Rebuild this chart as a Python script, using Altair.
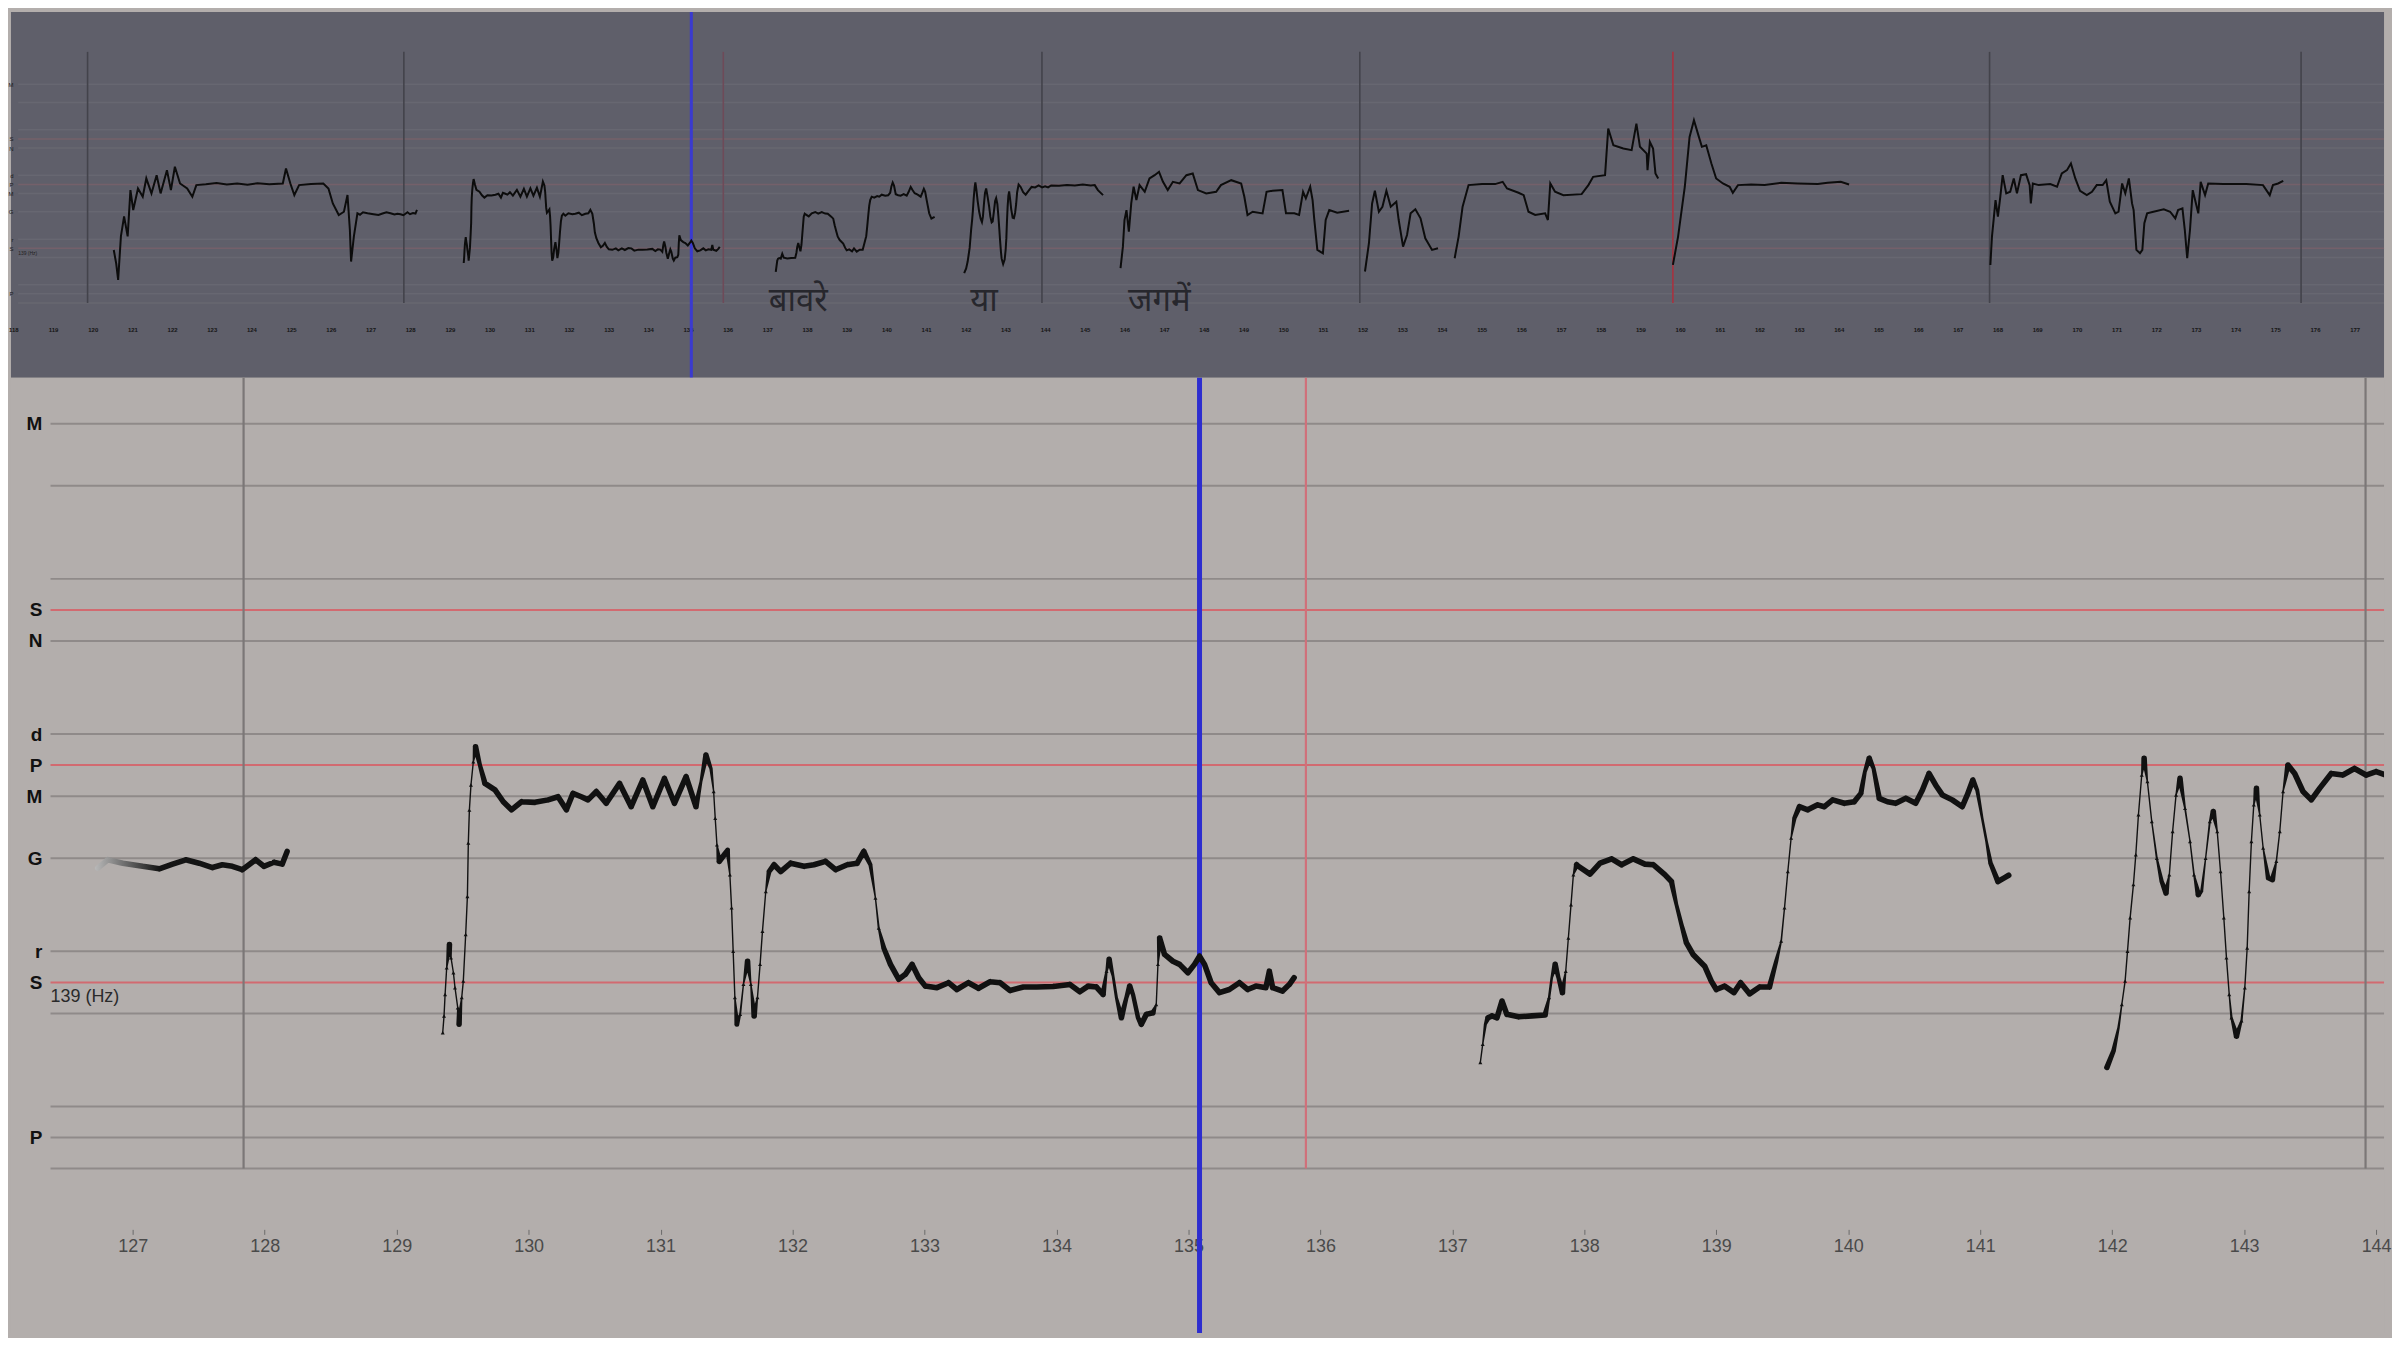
import altair as alt
import pandas as pd

# ---------------- data (time in s, pitch in semitones above Sa = 139 Hz) ----------------
SEG1 = [(120.53,-0.19),(120.59,-1.64),(120.64,-3.47),(120.71,1.31),(120.79,3.50),(120.88,1.31),(120.95,6.38),
        (121.02,4.19),(121.14,6.56),(121.26,5.65),(121.35,7.66),(121.48,6.02),(121.61,8.02),(121.71,6.02),
        (121.87,8.57),(121.97,6.38),(122.07,8.94),(122.20,7.11),(122.38,6.56),(122.51,5.65),(122.61,6.93),
        (122.85,7.02),(123.12,7.15),(123.38,7.00),(123.64,7.10),(123.90,6.98),(124.15,7.12),(124.45,7.02),
        (124.79,7.10),(124.87,8.75),(124.98,7.11),(125.08,5.84),(125.20,6.93),(125.50,7.05),(125.81,7.11),
        (125.94,6.56),(126.05,4.92),(126.20,3.65),(126.33,4.01),(126.42,5.84),(126.48,2.00),(126.51,-1.46),
        (126.58,1.28),(126.67,3.83),
        (126.735,3.68),(126.81,3.95),(126.924,3.84),(127.075,3.74),(127.201,3.66),(127.302,3.81),(127.402,3.95),
        (127.503,3.84),(127.604,3.70),(127.679,3.79),(127.755,3.74),(127.83,3.63),(127.931,3.95),(127.994,3.74),
        (128.07,3.87),(128.133,3.81),(128.17,4.22)]
SEG2 = [(129.349,-1.62),(129.359,-1.08),(129.367,-0.39),(129.379,0.47),(129.40,1.22),(129.412,0.79),(129.43,0.31),
        (129.442,-0.17),(129.463,-0.82),(129.473,-1.35),(129.493,-0.49),(129.505,0.04),(129.523,1.54),(129.536,2.77),
        (129.543,4.49),(129.551,5.55),(129.563,6.36),(129.581,7.11),(129.598,7.59),(129.631,7.00),(129.669,6.41),
        (129.745,6.20),(129.808,5.82),(129.87,5.56),(129.946,5.82),(130.047,5.80),(130.148,5.88),(130.223,5.98),
        (130.286,5.56),(130.336,6.09),(130.399,5.98),(130.45,5.88),(130.513,6.15),(130.588,5.77),(130.689,6.41),
        (130.777,5.66),(130.865,6.52),(130.941,5.66),(131.029,6.57),(131.105,5.77),(131.193,6.63),(131.268,5.66),
        (131.306,6.47),(131.344,7.32),(131.382,6.89),(131.402,6.15),(131.414,5.29),(131.427,4.43),(131.445,3.90),
        (131.482,4.11),(131.508,4.27),(131.525,3.47),(131.538,2.40),(131.55,1.00),(131.563,-0.49),(131.578,-1.35),
        (131.603,-1.03),(131.628,-0.06),(131.659,0.68),(131.684,-0.06),(131.709,-1.08),(131.734,-0.49),(131.754,0.58),
        (131.772,1.65),(131.797,2.93),(131.822,3.57),(131.86,3.79),(131.91,3.57),(131.986,3.84),(132.087,3.74),
        (132.162,3.79),(132.25,3.90),(132.326,3.63),(132.414,3.79),(132.49,3.84),(132.54,4.22),(132.59,3.79),
        (132.628,2.72),(132.653,1.75),(132.691,1.11),(132.742,0.58),(132.805,0.10),(132.855,0.26),(132.906,0.58),
        (132.956,0.15),(133.006,-0.12),(133.094,-0.17),(133.182,-0.01),(133.245,-0.23),(133.333,-0.01),(133.409,-0.19),
        (133.497,0.02),(133.573,-0.01),(133.648,-0.26),(133.749,-0.15),(133.85,-0.15),(133.976,-0.13),(134.102,-0.07),
        (134.177,-0.30),(134.24,-0.12),(134.303,-0.15),(134.353,-0.39),(134.379,0.36),(134.399,0.74),(134.429,0.20),
        (134.454,-0.49),(134.492,-1.14),(134.53,-0.49),(134.555,-0.12),(134.58,-0.39),(134.618,-1.14),(134.643,-1.35),
        (134.681,-1.03),(134.731,-0.98),(134.756,-0.71),(134.769,0.58),(134.782,1.43),(134.819,0.90),(134.882,0.68),
        (134.933,0.58),(134.996,0.31),(135.046,0.58),(135.084,0.84),(135.122,0.58),(135.172,-0.01),(135.235,-0.33),
        (135.31,-0.23),(135.386,-0.01),(135.449,-0.23),(135.512,-0.12),(135.587,-0.17),(135.613,0.36),(135.638,-0.17),
        (135.713,-0.28),(135.764,-0.07),(135.801,0.15)]
SEG3 = [(137.212,-2.58),(137.23,-1.99),(137.25,-1.35),(137.27,-1.14),(137.30,-1.08),(137.338,-1.14),(137.376,-0.60),
        (137.413,-1.03),(137.502,-1.11),(137.603,-1.08),(137.703,-1.05),(137.733,-0.49),(137.753,0.15),(137.779,0.58),
        (137.804,0.15),(137.834,-0.33),(137.859,0.36),(137.879,1.43),(137.899,2.50),(137.917,3.47),(137.942,3.79),
        (137.955,3.74),(138.043,3.49),(138.119,3.84),(138.207,3.98),(138.282,3.79),(138.371,3.98),(138.459,3.81),
        (138.522,3.79),(138.61,3.47),(138.66,3.25),(138.698,2.50),(138.736,1.86),(138.774,1.27),(138.824,0.90),
        (138.912,0.52),(138.962,0.04),(139.0,-0.23),(139.063,-0.12),(139.134,-0.33),(139.184,-0.01),(139.252,-0.37),
        (139.328,-0.15),(139.403,-0.15),(139.454,0.68),(139.492,1.33),(139.517,2.40),(139.542,3.57),(139.567,4.65),
        (139.592,5.29),(139.63,5.66),(139.693,5.56),(139.768,5.72),(139.819,5.66),(139.882,5.88),(139.97,5.77),
        (140.045,5.82),(140.096,6.09),(140.126,6.79),(140.159,7.22),(140.192,6.89),(140.235,5.93),(140.297,5.82),
        (140.36,5.77),(140.436,5.93),(140.511,5.77),(140.562,6.20),(140.612,6.73),(140.662,6.36),(140.713,6.04),
        (140.788,5.88),(140.864,5.66),(140.902,6.04),(140.944,6.52),(140.977,6.20),(141.015,5.29),(141.048,4.54),
        (141.078,3.84),(141.134,3.25),(141.179,3.36),(141.216,3.45)]
SEG4 = [(141.96,-2.74),(142.01,-2.21),(142.048,-1.46),(142.073,-0.71),(142.098,0.04),(142.116,1.00),(142.136,2.08),
        (142.161,3.15),(142.179,4.11),(142.199,5.40),(142.224,6.68),(142.242,7.22),(142.267,6.47),(142.30,5.18),
        (142.338,4.00),(142.375,3.25),(142.408,2.88),(142.433,3.47),(142.458,4.86),(142.484,6.04),(142.514,6.57),
        (142.552,5.61),(142.59,4.54),(142.62,3.47),(142.653,2.83),(142.678,2.93),(142.708,4.00),(142.74,5.18),
        (142.766,5.50),(142.796,4.86),(142.821,3.57),(142.846,2.08),(142.866,0.79),(142.887,-0.39),(142.904,-1.14),
        (142.942,-1.73),(142.98,-1.24),(143.005,-0.17),(143.023,1.11),(143.038,2.93),(143.055,4.54),(143.073,5.72),
        (143.093,6.25),(143.118,5.40),(143.144,4.33),(143.182,3.36),(143.214,3.31),(143.244,3.90),(143.27,4.86),
        (143.295,6.15),(143.332,7.00),(143.383,6.73),(143.446,6.15),(143.509,5.88),(143.572,6.25),(143.66,6.73),
        (143.748,6.68),(143.836,6.89),(143.924,6.68),(144.0,6.79),(144.075,6.68),(144.151,6.89),(144.35,6.85),
        (144.55,6.95),(144.75,6.88),(144.95,7.00),(145.15,6.90),(145.25,6.93),(145.33,6.38),(145.46,5.83)]
SEG5 = [(145.90,-2.19),(145.96,0.18),(146.00,3.10),(146.05,4.19),(146.11,1.82),(146.17,4.92),(146.23,6.75),
        (146.30,5.29),(146.38,6.93),(146.51,6.20),(146.63,7.66),(146.76,8.02),(146.87,8.39),(146.97,7.29),
        (147.09,6.38),(147.22,7.29),(147.39,7.11),(147.56,8.02),(147.72,8.21),(147.85,6.38),(148.06,6.02),
        (148.31,6.20),(148.43,6.93),(148.69,7.47),(148.94,7.11),(149.02,5.65),(149.10,3.65),(149.23,4.01),
        (149.48,3.83),(149.58,6.20),(149.73,6.31),(149.98,6.38),(150.07,3.83),(150.28,3.83),(150.40,3.65),
        (150.50,6.20),(150.57,5.47),(150.68,6.75),(150.74,5.29),(150.78,3.28),(150.86,-0.18),(151.00,-0.55),
        (151.07,3.10),(151.16,4.19),(151.36,3.90),(151.66,4.12)]
SEG6 = [(152.06,-2.55),(152.16,0.55),(152.24,4.92),(152.31,6.31),(152.41,4.01),(152.50,4.56),(152.60,6.31),
        (152.71,4.56),(152.85,5.11),(152.91,3.10),(153.02,0.18),(153.12,1.46),(153.21,3.83),(153.33,4.27),
        (153.46,3.28),(153.58,1.09),(153.75,-0.18),(153.90,0.00)]
SEG7 = [(154.32,-1.09),(154.42,1.28),(154.52,4.56),(154.67,6.93),(155.01,7.04),(155.34,7.04),(155.53,7.29),
        (155.64,6.56),(155.93,6.09),(156.06,5.83),(156.18,4.01),(156.35,3.65),(156.60,3.83),(156.67,3.10),
        (156.73,7.11),(156.85,6.20),(157.06,5.83),(157.52,5.94),(157.69,6.93),(157.81,7.84),(158.11,8.02),
        (158.19,13.13),(158.32,11.30),(158.57,10.94),(158.78,10.76),(158.90,13.68),(158.99,11.13),(159.16,10.39),
        (159.18,8.57),(159.24,11.67),(159.32,10.94),(159.38,8.21),(159.45,7.66)]
SEG8 = [(159.82,-1.83),(159.95,1.28),(160.12,6.75),(160.24,12.22),(160.35,14.04),(160.45,12.58),(160.55,11.13),
        (160.66,11.30),(160.79,9.30),(160.91,7.66),(161.08,7.11),(161.25,6.75),(161.33,6.09),(161.46,6.93),
        (161.79,7.00),(162.13,6.93),(162.55,7.18),(162.96,7.11),(163.47,7.04),(163.72,7.18),(164.05,7.29),
        (164.26,7.00)]
SEG9 = [(167.82,-1.83),(167.86,1.28),(167.91,3.47),(167.95,5.29),(168.01,3.47),(168.07,5.65),(168.13,8.02),
        (168.22,6.02),(168.32,6.20),(168.41,7.66),(168.49,6.02),(168.59,8.02),(168.72,8.13),(168.81,6.93),
        (168.84,4.92),(168.89,7.11),(169.04,6.93),(169.33,7.04),(169.50,6.75),(169.62,8.21),(169.75,8.57),
        (169.85,9.30),(169.96,7.66),(170.08,6.31),(170.25,5.83),(170.38,6.20),(170.50,6.93),(170.65,6.93),
        (170.74,7.47),(170.83,5.11),(170.97,3.83),(171.05,4.01),(171.14,7.11),(171.22,6.02),(171.31,7.66),
        (171.39,4.92),(171.43,4.19),(171.50,-0.18),(171.59,-0.55),(171.65,-0.18),(171.70,2.74),(171.77,3.83),
        (171.93,4.01),(172.19,4.27),(172.35,4.01),(172.48,3.28),(172.55,4.19),(172.66,4.38),(172.72,2.00),
        (172.78,-1.09),(172.85,2.00),(172.92,6.38),(173.00,4.92),(173.06,3.83),(173.12,7.29),(173.23,5.83),
        (173.31,7.11),(173.69,7.04),(174.27,7.04),(174.69,6.93),(174.86,5.83),(174.94,6.93),(175.07,7.11),
        (175.20,7.40)]
SEGMENTS = [SEG1, SEG2, SEG3, SEG4, SEG5, SEG6, SEG7, SEG8, SEG9]

GRID_SEMITONES = [-6, -5, -4, -1, 0, 1, 4, 6, 7, 8, 11, 12, 13, 16, 18]
RED_SEMITONES = [0, 7, 12]
SWARA_VALUES = [18, 12, 11, 8, 7, 6, 4, 1, 0, -5]
SWARA_NAMES = ["M", "S", "N", "d", "P", "M", "G", "r", "S", "P"]

VLINE_T = [119.87, 127.84, 135.89, 143.92, 151.93, 159.82, 167.80, 175.65]
VLINE_KIND = ["g", "g", "r", "g", "g", "R", "g", "g"]
PLAYHEAD_T = 135.084

LYRICS = ["बावरे", "या", "जगमें"]
LYRIC_T = [137.78, 142.46, 146.88]
LYRIC_S = -6.9

TOP_TICKS = list(range(118, 178))
BOT_TICKS = list(range(127, 145))
HZ_LABEL = "139 (Hz)"

BOTTOM_WINDOW_START = 126.73      # bottom view only shows the trace from here on
TOP_GRID_T0, BOT_GRID_T0 = 118.12, 126.377
TOP_X_DOMAIN = [117.94, 177.74]
TOP_Y_DOMAIN = [-14.22, 25.93]
BOT_X_DOMAIN = [126.0774, 144.06]
BOT_Y_DOMAIN = [-11.298, 19.476]
VLINE_S0, TOP_VLINE_S1 = -6, 21.55

# ---------------- tables ----------------
track = pd.DataFrame([{"seg": i, "t": t, "s": s}
                      for i, seg in enumerate(SEGMENTS, start=1) for t, s in seg])
grid = pd.DataFrame({"s": GRID_SEMITONES, "red": [v in RED_SEMITONES for v in GRID_SEMITONES]})
vlines = pd.DataFrame({"t": VLINE_T, "kind": VLINE_KIND})
play = pd.DataFrame({"t": [PLAYHEAD_T]})
lyrics = pd.DataFrame({"t": LYRIC_T, "s": [LYRIC_S] * 3, "txt": LYRICS})

label_expr = " : ".join(f"datum.value == {v} ? '{n}'" for v, n in zip(SWARA_VALUES, SWARA_NAMES)) + " : ''"

W, TOP_H, BOT_H = 2380, 367, 958
TOP_BG, BOT_BG = "#5f5f6a", "#b3aeac"

# ---------------- scales / axes ----------------
TXS = alt.Scale(domain=TOP_X_DOMAIN, nice=False, zero=False)
TYS = alt.Scale(domain=TOP_Y_DOMAIN, nice=False, zero=False)
BXS = alt.Scale(domain=BOT_X_DOMAIN, nice=False, zero=False)
BYS = alt.Scale(domain=BOT_Y_DOMAIN, nice=False, zero=False)

TXA = alt.Axis(values=TOP_TICKS, title=None, domain=False, ticks=False, grid=False, labelFontSize=6,
               labelFont="Liberation Sans", labelFontWeight="bold", labelColor="#151515",
               labelPadding=0, offset=-51, labelFlush=False, labelOverlap=False)
TYA = alt.Axis(values=SWARA_VALUES, labelExpr=label_expr, title=None, domain=False, ticks=False, grid=False,
               labelFontSize=6, labelFont="Liberation Sans", labelColor="#1c1c1c", offset=-3, labelPadding=1,
               labelOverlap=False)
BXA = alt.Axis(values=BOT_TICKS, title=None, domain=False, ticks=True, tickSize=5, tickColor="#6a6a6a",
               tickWidth=1, grid=False, labelFontSize=18, labelFont="Liberation Sans", labelColor="#4a4a4a",
               labelPadding=3, offset=-104, labelFlush=False, labelOverlap=False)
BYA = alt.Axis(values=SWARA_VALUES, labelExpr=label_expr, title=None, domain=False, ticks=False, grid=False,
               labelFontSize=19, labelFont="Liberation Sans", labelFontWeight="bold", labelColor="#111111",
               offset=-40, labelPadding=9, labelOverlap=False)


def tx(f): return alt.X(f, type="quantitative", scale=TXS, axis=TXA)
def ty(f): return alt.Y(f, type="quantitative", scale=TYS, axis=TYA)
def bx(f): return alt.X(f, type="quantitative", scale=BXS, axis=BXA)
def by(f): return alt.Y(f, type="quantitative", scale=BYS, axis=BYA)


# ---------------- top (overview) panel ----------------
top_grid = alt.Chart(grid).transform_calculate(
    x0=f"{TOP_GRID_T0}", x1=f"{TOP_X_DOMAIN[1]}",
    col="datum.red ? '#74606a' : '#676771'"
).mark_rule(strokeWidth=1.5).encode(
    x=tx("x0:Q"), x2="x1:Q", y=ty("s:Q"), color=alt.Color("col:N", scale=None))

top_vl = alt.Chart(vlines).transform_calculate(
    y0=f"{VLINE_S0}", y1=f"{TOP_VLINE_S1}",
    col="datum.kind == 'R' ? '#a8323f' : (datum.kind == 'r' ? '#6e4a58' : '#43434b')"
).mark_rule(strokeWidth=1.6).encode(
    x=tx("t:Q"), y=ty("y0:Q"), y2="y1:Q", color=alt.Color("col:N", scale=None))

top_play = alt.Chart(play).mark_rule(color="#3a3ad0", strokeWidth=3).encode(x=tx("t:Q"))

top_line = alt.Chart(track).mark_line(color="#0c0c0c", strokeWidth=2, clip=True).encode(
    x=tx("t:Q"), y=ty("s:Q"), detail="seg:N")

top_lyr = alt.Chart(lyrics).mark_text(font="Noto Sans Devanagari, Noto Sans, sans-serif", fontSize=33,
                                      color="#27272d", baseline="alphabetic", align="center").encode(
    x=tx("t:Q"), y=ty("s:Q"), text="txt:N")

top_hz = alt.Chart(pd.DataFrame({"t": [TOP_GRID_T0], "s": [-0.55], "txt": [HZ_LABEL]})).mark_text(
    fontSize=5, color="#222222", align="left", baseline="middle", font="Liberation Sans").encode(
    x=tx("t:Q"), y=ty("s:Q"), text="txt:N")

top = alt.layer(top_grid, top_vl, top_play, top_line, top_lyr, top_hz).properties(
    width=W, height=TOP_H, view=alt.ViewBackground(fill=TOP_BG, stroke=None))

# ---------------- bottom (zoomed) panel ----------------
bot_grid = alt.Chart(grid).transform_calculate(
    x0=f"{BOT_GRID_T0}", x1=f"{BOT_X_DOMAIN[1]}",
    col="datum.red ? '#d26a70' : '#8f8a89'"
).mark_rule(strokeWidth=2).encode(
    x=bx("x0:Q"), x2="x1:Q", y=by("s:Q"), color=alt.Color("col:N", scale=None))

bot_vl = alt.Chart(vlines).transform_filter(
    (alt.datum.t > BOT_X_DOMAIN[0]) & (alt.datum.t < BOT_X_DOMAIN[1])
).transform_calculate(
    y0=f"{VLINE_S0}", y1=f"{BOT_Y_DOMAIN[1]}",
    col="datum.kind == 'g' ? '#7b7777' : '#d0707a'"
).mark_rule(strokeWidth=2.2).encode(
    x=bx("t:Q"), y=by("y0:Q"), y2="y1:Q", color=alt.Color("col:N", scale=None))

bot_play = alt.Chart(play).mark_rule(color="#2d2dcf", strokeWidth=5).encode(x=bx("t:Q"))

bot_base = alt.Chart(track).transform_filter(alt.datum.t >= BOTTOM_WINDOW_START).transform_window(
    pt="lag(t)", ps="lag(s)", nt="lead(t)", ns="lead(s)",
    groupby=["seg"], sort=[alt.SortField("t", order="ascending")]
).transform_calculate(
    slope="(isValid(datum.nt) && isValid(datum.pt)) ? abs((datum.ns - datum.ps) / (datum.nt - datum.pt)) : "
          "(isValid(datum.nt) ? abs((datum.ns - datum.s) / (datum.nt - datum.t)) : "
          "(isValid(datum.pt) ? abs((datum.s - datum.ps) / (datum.t - datum.pt)) : 0))"
).transform_calculate(
    w="clamp(5.8 - (datum.slope - 10) * 0.24, 1.4, 5.6)"
)

fade = alt.LinearGradient(gradient="linear", x1=0, x2=1, y1=0, y2=0,
                          stops=[alt.GradientStop(color="#b8b8b8", offset=0),
                                 alt.GradientStop(color="#151515", offset=0.33),
                                 alt.GradientStop(color="#111111", offset=1)])

bot_first = bot_base.transform_filter(alt.datum.seg == 1).mark_trail(color=fade, clip=True).encode(
    x=bx("t:Q"), y=by("s:Q"), size=alt.Size("w:Q", scale=None), detail="seg:N")
bot_rest = bot_base.transform_filter(alt.datum.seg != 1).mark_trail(color="#111111", clip=True).encode(
    x=bx("t:Q"), y=by("s:Q"), size=alt.Size("w:Q", scale=None), detail="seg:N")
bot_dots = bot_base.transform_filter(alt.datum.slope > 24).mark_point(
    shape="triangle-up", filled=True, size=16, color="#111111", opacity=1, clip=True).encode(
    x=bx("t:Q"), y=by("s:Q"))

bot_hz = alt.Chart(pd.DataFrame({"t": [BOT_GRID_T0], "s": [-0.47], "txt": [HZ_LABEL]})).mark_text(
    fontSize=18, color="#2a2a2a", align="left", baseline="middle", font="Liberation Sans").encode(
    x=bx("t:Q"), y=by("s:Q"), text="txt:N")

bottom = alt.layer(bot_grid, bot_vl, bot_play, bot_first, bot_rest, bot_dots, bot_hz).properties(
    width=W, height=BOT_H, view=alt.ViewBackground(fill=BOT_BG, stroke=None))

chart = alt.vconcat(top, bottom, spacing=0, bounds="flush").properties(
    padding=0, background=BOT_BG).configure_view(stroke=None)

chart.save("out.html", embed_options={"renderer": "svg", "actions": False})
